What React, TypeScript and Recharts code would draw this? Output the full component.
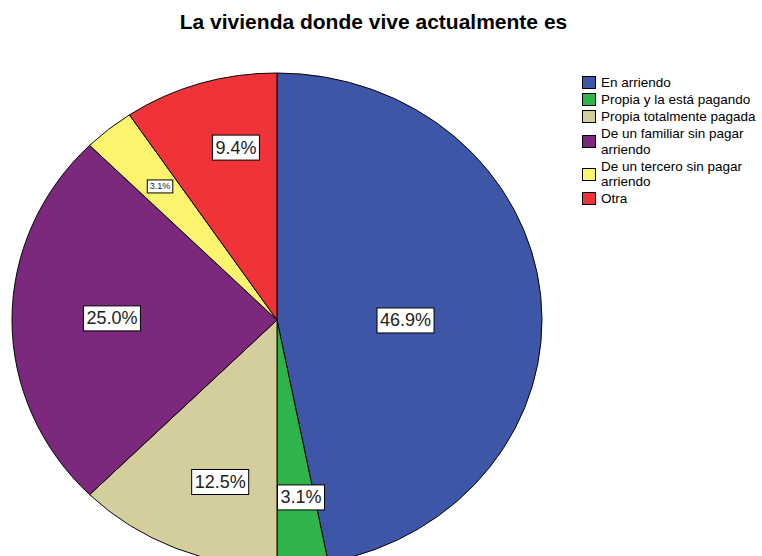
import React from "react";
import { PieChart, Pie, Cell, Legend } from "recharts";

const categories = [
  "En arriendo",
  "Propia y la está pagando",
  "Propia totalmente pagada",
  "De un familiar sin pagar arriendo",
  "De un tercero sin pagar arriendo",
  "Otra",
];
const legendLines = [
  ["En arriendo"],
  ["Propia y la está pagando"],
  ["Propia totalmente pagada"],
  ["De un familiar sin pagar", "arriendo"],
  ["De un tercero sin pagar", "arriendo"],
  ["Otra"],
];
const percents = [46.9, 3.1, 12.5, 25.0, 3.1, 9.4];
const colors = ["#3d56a8", "#2fb44b", "#d4ce9c", "#7b287d", "#faf46e", "#ef3339"];

const data = categories.map((name, i) => ({ name, value: percents[i] }));

// pie drawn as an ellipse (vertical squash)
const CX = 277;
const CY = 320;
const RX = 265;
const RY = 247;
const K = RY / RX;

const RAD = Math.PI / 180;
const labelFactor = [0.485, 0.724, 0.69, 0.623, 0.698, 0.715];
const labelShift = [5.8, -1.6, -4.4, 0.6, 0.2, 4.4];
const smallLabel = [false, false, false, false, true, false];

const charW = (c: string) => (c === "." ? 0.278 : c === "%" ? 0.889 : 0.556);

const renderLabel = (props: any) => {
  const { cx, cy, midAngle, outerRadius, index, value } = props;
  const r = outerRadius * labelFactor[index];
  const ang = midAngle - labelShift[index];
  const x = cx + r * Math.cos(-ang * RAD);
  const y = cy + r * Math.sin(-ang * RAD);
  const text = value.toFixed(1) + "%";
  const small = smallLabel[index];
  const fs = small ? 9 : 18;
  const tw = text.split("").reduce((s: number, c: string) => s + charW(c), 0) * fs;
  const w = tw + (small ? 5 : 6);
  const h = small ? 13 : 25;
  return (
    <g transform={`translate(${x} ${y}) scale(1 ${1 / K})`}>
      <rect x={-w / 2} y={-h / 2} width={w} height={h} fill="#ffffff" stroke="#000" strokeWidth={1} />
      <text
        x={0}
        y={0}
        textAnchor="middle"
        dominantBaseline="central"
        fontSize={fs}
        fill="#222"
        fontFamily="Liberation Sans, Arial, sans-serif"
      >
        {text}
      </text>
    </g>
  );
};

const renderLegend = () => (
  <div style={{ fontFamily: "Liberation Sans, Arial, sans-serif", fontSize: 13.5, lineHeight: "15.5px", color: "#000" }}>
    {legendLines.map((lines, i) => (
      <div key={i} style={{ display: "flex", alignItems: "center", marginBottom: 1.5, whiteSpace: "nowrap" }}>
        <div
          style={{
            width: 12,
            height: 11,
            background: colors[i],
            border: "1px solid #000",
            marginRight: 5,
            flexShrink: 0,
          }}
        />
        <div>
          {lines.map((l, j) => (
            <div key={j}>{l}</div>
          ))}
        </div>
      </div>
    ))}
  </div>
);

export default function App() {
  return (
    <div
      className="pie-wrap"
      style={{ position: "absolute", left: 0, top: 0, width: 762, height: 556, overflow: "hidden", background: "#fff" }}
    >
      <style>{`.pie-wrap .recharts-surface { transform: scaleY(${K}); transform-origin: ${CX}px ${CY}px; overflow: visible; }`}</style>
      <div
        style={{
          position: "absolute",
          left: 0,
          top: 10,
          width: 747,
          textAlign: "center",
          fontFamily: "Liberation Sans, Arial, sans-serif",
          fontWeight: "bold",
          fontSize: 21,
          zIndex: 2,
        }}
      >
        La vivienda donde vive actualmente es
      </div>
      <PieChart width={762} height={640} margin={{ top: 0, right: 0, bottom: 0, left: 0 }}>
        <Pie
          data={data}
          dataKey="value"
          nameKey="name"
          cx={CX}
          cy={CY}
          outerRadius={RX}
          startAngle={90}
          endAngle={-270}
          stroke="#000"
          strokeWidth={1}
          label={renderLabel}
          labelLine={false}
          isAnimationActive={false}
        >
          {data.map((d, i) => (
            <Cell key={i} fill={colors[i]} />
          ))}
        </Pie>
        <Legend
          content={renderLegend}
          layout="vertical"
          verticalAlign="top"
          align="right"
          wrapperStyle={{ position: "absolute", left: 582, top: 75, width: 200 }}
        />
      </PieChart>
    </div>
  );
}
